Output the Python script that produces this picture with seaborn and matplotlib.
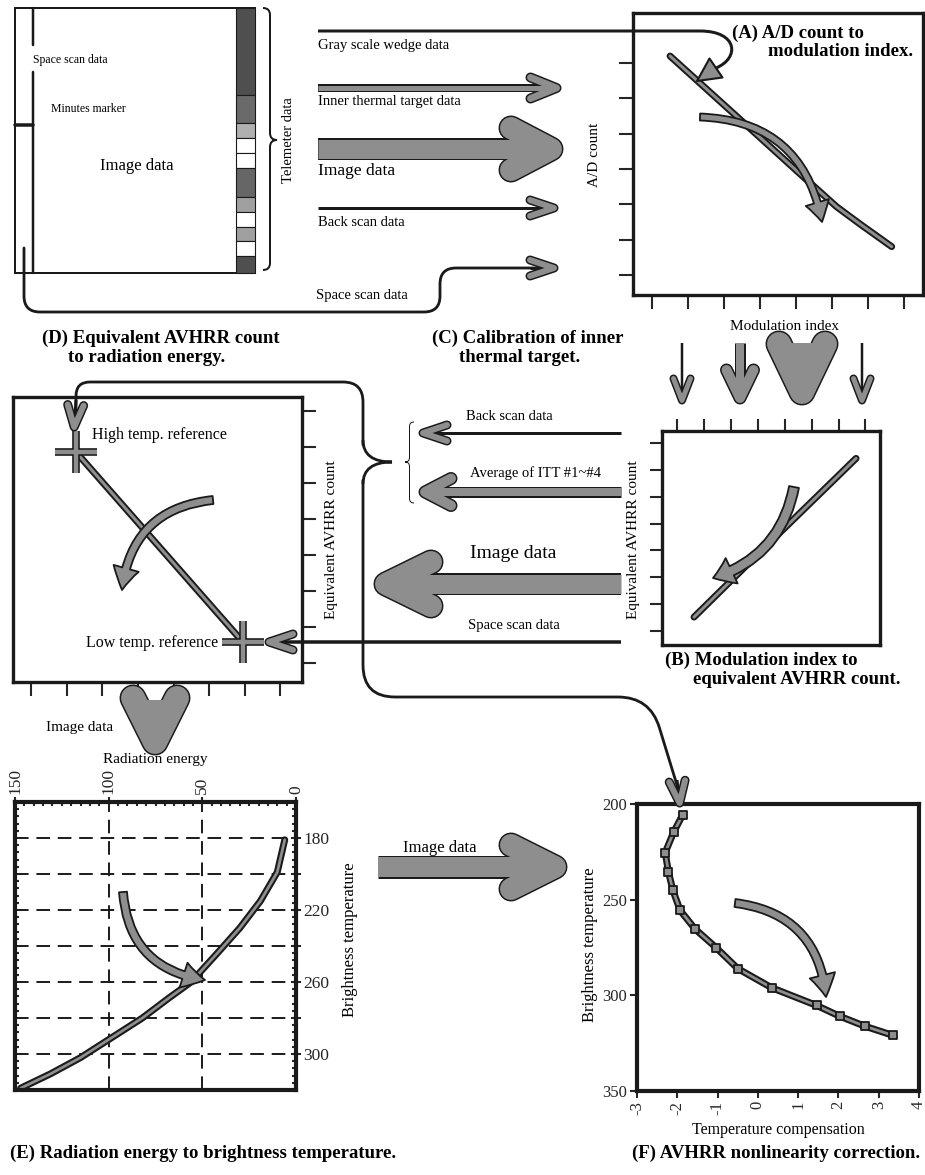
import numpy as np
import pandas as pd
import matplotlib
matplotlib.use("Agg")
import matplotlib.pyplot as plt
import seaborn as sns
from matplotlib.path import Path
from matplotlib.patches import PathPatch, FancyArrowPatch, Rectangle, Polygon
import matplotlib.patheffects as pe
from matplotlib.ticker import MultipleLocator

sns.set_style("white")
plt.rcParams['font.family'] = ['Liberation Serif', 'DejaVu Serif']

# ---------------- data ----------------
# (A) A/D count vs modulation index (unlabelled axes, tick units)
a_mod_index = [1.50, 3.44, 5.30, 6.13, 6.78, 7.66]
a_ad_count = [7.20, 5.41, 3.69, 2.93, 2.44, 1.80]
# (B) modulation index -> equivalent AVHRR count
b_mod_index = [1.63, 4.60, 7.65]
b_equiv_count = [1.52, 4.45, 7.43]
# (D) equivalent AVHRR count references (high temp., low temp.)
d_energy = [2.26, 6.95]
d_equiv_count = [6.86, 1.58]
# (E) radiation energy vs brightness temperature
e_energy = [147, 131, 115, 100, 82, 68, 56, 42, 30, 19, 10, 6]
e_temp = [319, 311, 302, 292, 280, 269, 260, 244, 230, 215, 199, 181]
e_xticks = [150, 100, 50, 0]
e_yticks = [180, 200, 220, 240, 260, 280, 300]
e_ylabels = ['180', '', '220', '', '260', '', '300']
# (F) nonlinearity correction
f_comp = [-1.87, -2.09, -2.30, -2.22, -2.11, -1.93, -1.56, -1.04, -0.50, 0.34, 1.46, 2.03, 2.65, 3.35]
f_temp = [205.8, 214.7, 225.4, 235.4, 245.0, 255.6, 265.3, 275.0, 286.0, 296.0, 305.3, 310.9, 316.1, 320.9]
f_xticks = [-3, -2, -1, 0, 1, 2, 3, 4]
f_yticks = [200, 250, 300, 350]
# telemeter strip shades
tele_tops = [8, 95, 123, 138, 153, 168, 197, 212, 227, 241, 256]
tele_bots = [95, 123, 138, 153, 168, 197, 212, 227, 241, 256, 273]
tele_shades = ['#4f4f4f', '#6a6a6a', '#b0b0b0', 'white', 'white', '#666666',
               '#a0a0a0', 'white', '#a0a0a0', 'white', '#4f4f4f']

# ---------------- figure ----------------
W, H = 925, 1175
fig = plt.figure(figsize=(W / 100, H / 100), dpi=100)
DARK = '#1a1a1a'
GRAY = '#8e8e8e'
tube = [pe.Stroke(linewidth=5, foreground=DARK), pe.Normal()]


def add_ax(l, t, r, b):
    return fig.add_axes([l / W, 1 - b / H, (r - l) / W, (b - t) / H])


def style_spines(ax, lw=2.4):
    for s in ax.spines.values():
        s.set_linewidth(lw)
        s.set_color(DARK)
        s.set_visible(True)


# ---- (A)
axA = add_ax(633, 13, 923, 295)
dfA = pd.DataFrame({'m': a_mod_index, 'c': a_ad_count})
sns.lineplot(data=dfA, x='m', y='c', ax=axA, sort=False, estimator=None, color=GRAY, lw=2.2)
axA.lines[0].set_path_effects(tube)
axA.set_xlim(0.47, 8.53)
axA.set_ylim(0.43, 8.42)
axA.set_xticks(range(1, 9))
axA.set_yticks(range(1, 8))
axA.tick_params(direction='out', length=10, width=1.5, bottom=True, left=True,
                labelbottom=False, labelleft=False)
axA.set_xlabel('')
axA.set_ylabel('')
style_spines(axA)

# ---- (B)
axB = add_ax(662, 431, 880, 645)
dfB = pd.DataFrame({'m': b_mod_index, 'c': b_equiv_count})
sns.lineplot(data=dfB, x='m', y='c', ax=axB, sort=False, estimator=None, color=GRAY, lw=2.2)
axB.lines[0].set_path_effects(tube)
axB.set_xlim(0.44, 8.54)
axB.set_ylim(0.48, 8.45)
axB.xaxis.tick_top()
axB.set_xticks(range(1, 9))
axB.set_yticks(range(1, 9))
axB.tick_params(direction='out', length=9, width=1.5, top=True, left=True, bottom=False,
                labeltop=False, labelleft=False, labelbottom=False)
axB.set_xlabel('')
axB.set_ylabel('')
style_spines(axB)

# ---- (D)
axD = add_ax(13, 397, 302, 682)
dfD = pd.DataFrame({'e': d_energy, 'c': d_equiv_count})
sns.lineplot(data=dfD, x='e', y='c', ax=axD, sort=False, estimator=None, color=GRAY, lw=2.2)
axD.lines[0].set_path_effects(tube)
sns.lineplot(data=dfD, x='e', y='c', ax=axD, sort=False, estimator=None, linestyle='',
             marker='+', markersize=30, markeredgewidth=3.2, markeredgecolor=GRAY, color=GRAY)
axD.lines[1].set_path_effects([pe.Stroke(linewidth=5.5, foreground=DARK), pe.Normal()])
axD.lines[1].set_zorder(5)
axD.set_xlim(0.49, 8.61)
axD.set_ylim(0.47, 8.39)
axD.yaxis.tick_right()
axD.set_xticks(range(1, 9))
axD.set_yticks(range(1, 9))
axD.tick_params(direction='out', length=10, width=1.5, bottom=True, right=True, left=False,
                labelbottom=False, labelright=False, labelleft=False)
axD.set_xlabel('')
axD.set_ylabel('')
style_spines(axD)

# ---- (E)
axE = add_ax(15, 802, 296, 1090)
dfE = pd.DataFrame({'energy': e_energy, 'temp': e_temp})
sns.lineplot(data=dfE, x='energy', y='temp', ax=axE, sort=False, estimator=None, color=GRAY, lw=2.0)
axE.lines[0].set_path_effects(tube)
axE.set_xlim(150, 0)
axE.set_ylim(320, 160)
axE.xaxis.tick_top()
axE.yaxis.tick_right()
axE.set_xticks(e_xticks)
axE.set_xticklabels([str(v) for v in e_xticks], rotation=90)
axE.set_yticks(e_yticks)
axE.set_yticklabels(e_ylabels)
axE.grid(True, which='major', color=DARK, ls=(0, (7, 4)), lw=1.4)
axE.xaxis.set_minor_locator(MultipleLocator(5))
axE.yaxis.set_minor_locator(MultipleLocator(4))
axE.tick_params(which='minor', direction='in', length=3, width=1.5,
                left=True, right=True, top=True, bottom=False)
axE.tick_params(which='major', direction='inout', length=7, width=1.5,
                top=True, right=True, left=False, bottom=False,
                labeltop=True, labelright=True, labelbottom=False, labelleft=False,
                labelsize=12.5, pad=2)
axE.set_xlabel('')
axE.set_ylabel('')
style_spines(axE, 3)

# ---- (F)
axF = add_ax(637, 804, 919, 1091)
dfF = pd.DataFrame({'comp': f_comp, 'temp': f_temp})
sns.lineplot(data=dfF, x='comp', y='temp', ax=axF, sort=False, estimator=None, color=GRAY, lw=2.0)
axF.lines[0].set_path_effects(tube)
sns.scatterplot(data=dfF, x='comp', y='temp', ax=axF, marker='s', s=38, color=GRAY,
                edgecolor=DARK, linewidth=1.3, zorder=5)
axF.set_xlim(-3, 4)
axF.set_ylim(350, 200)
axF.set_xticks(f_xticks)
axF.set_xticklabels([str(v) for v in f_xticks], rotation=90)
axF.set_yticks(f_yticks)
axF.tick_params(direction='out', length=5, width=1.5, bottom=True, left=True,
                labelsize=12, pad=2)
axF.set_xlabel('')
axF.set_ylabel('')
style_spines(axF, 3)

# ---------------- overlay (diagram) ----------------
ov = fig.add_axes([0, 0, 1, 1])
ov.set_xlim(0, W)
ov.set_ylim(H, 0)
ov.axis('off')
ov.patch.set_alpha(0)
ov.set_zorder(10)


def p2pt(v):
    return v * 0.72


def chevron_arrow(x0, y0, x1, y1, shaft, arm, hw, hl, fill_shaft=True):
    d = np.array([x1 - x0, y1 - y0], float)
    u = d / np.hypot(*d)
    n = np.array([-u[1], u[0]])
    tip = np.array([x1, y1]) - u * arm * 0.5
    base = tip - u * hl
    a1 = base + n * (hw / 2 - arm / 2)
    a2 = base - n * (hw / 2 - arm / 2)
    send = tip - u * arm * 0.3
    sx, sy = [x0, send[0]], [y0, send[1]]
    cx, cy = [a1[0], tip[0], a2[0]], [a1[1], tip[1], a2[1]]
    if fill_shaft:
        ov.plot(sx, sy, color=DARK, lw=p2pt(shaft + 3), solid_capstyle='butt')
    else:
        ov.plot(sx, sy, color=DARK, lw=p2pt(shaft), solid_capstyle='butt')
    ov.plot(cx, cy, color=DARK, lw=p2pt(arm + 3), solid_capstyle='round', solid_joinstyle='round')
    if fill_shaft:
        ov.plot(sx, sy, color=GRAY, lw=p2pt(shaft), solid_capstyle='butt')
    ov.plot(cx, cy, color=GRAY, lw=p2pt(arm), solid_capstyle='round', solid_joinstyle='round')


def rounded(points, r, lw=2.5):
    pts = [np.array(p, float) for p in points]
    verts = [pts[0]]
    codes = [Path.MOVETO]
    for i in range(1, len(pts) - 1):
        p, a, b = pts[i], pts[i - 1], pts[i + 1]
        d1 = (p - a) / np.linalg.norm(p - a)
        d2 = (b - p) / np.linalg.norm(b - p)
        rr = min(r, np.linalg.norm(p - a) / 2, np.linalg.norm(b - p) / 2)
        verts += [p - d1 * rr, p, p + d2 * rr]
        codes += [Path.LINETO, Path.CURVE3, Path.CURVE3]
    verts.append(pts[-1])
    codes.append(Path.LINETO)
    ov.add_patch(PathPatch(Path(verts, codes), fc='none', ec=DARK, lw=p2pt(lw),
                           capstyle='round', joinstyle='round'))


def brace(xt, ym, y0, y1, w, side, lw=2):
    xb = xt - side * w
    xm = xt - side * w / 2
    verts = [(xb, y0), (xm, y0), (xm, y0 + w / 2), (xm, ym - w / 2), (xm, ym), (xt, ym),
             (xm, ym), (xm, ym + w / 2), (xm, y1 - w / 2), (xm, y1), (xb, y1)]
    codes = [Path.MOVETO, Path.CURVE3, Path.CURVE3, Path.LINETO, Path.CURVE3, Path.CURVE3,
             Path.CURVE3, Path.CURVE3, Path.LINETO, Path.CURVE3, Path.CURVE3]
    ov.add_patch(PathPatch(Path(verts, codes), fc='none', ec=DARK, lw=p2pt(lw)))


def curved(p0, p1, rad, tail=7, hw=24, hl=18):
    a = FancyArrowPatch(p0, p1, connectionstyle=f"arc3,rad={rad}",
                        arrowstyle=f"simple,head_length={p2pt(hl)},head_width={p2pt(hw)},tail_width={p2pt(tail)}",
                        mutation_scale=1, fc=GRAY, ec=DARK, lw=1.3, shrinkA=0, shrinkB=0)
    ov.add_patch(a)


def txt(x, y, s, size=11, **kw):
    kw.setdefault('ha', 'left')
    kw.setdefault('va', 'center')
    ov.text(x, y, s, fontsize=size, color='black', **kw)


# --- scan data frame (top left)
ov.add_patch(Rectangle((15, 8), 240, 265, fc='white', ec=DARK, lw=p2pt(2)))
ov.plot([33, 33], [8, 45], color=DARK, lw=p2pt(2.5))
ov.plot([33, 33], [72, 273], color=DARK, lw=p2pt(2.5))
ov.plot([15, 33], [125, 125], color=DARK, lw=p2pt(3.5))
for t, b, c in zip(tele_tops, tele_bots, tele_shades):
    ov.add_patch(Rectangle((236, t), 19, b - t, fc=c, ec=DARK, lw=0.8))
txt(33, 60, 'Space scan data', 8.5)
txt(51, 109, 'Minutes marker', 8.5)
txt(100, 166, 'Image data', 12)
brace(277, 140, 8, 270, 14, +1, lw=2)
txt(288, 140, 'Telemeter data', 10.5, rotation=90, ha='center')

# --- top arrows to (A)
p_gray = Path([(318, 31), (700, 31), (738, 31), (740, 58), (716, 68)],
              [Path.MOVETO, Path.LINETO, Path.CURVE4, Path.CURVE4, Path.CURVE4])
ov.add_patch(PathPatch(p_gray, fc='none', ec=DARK, lw=p2pt(3)))
ov.add_patch(Polygon([(697, 81), (709.5, 58.5), (722.5, 77.5)], closed=True,
                     fc=GRAY, ec=DARK, lw=1.5, joinstyle='round'))
txt(318, 45, 'Gray scale wedge data', 10.5)
chevron_arrow(318, 88, 560, 88, 5, 7, 28, 26)
txt(318, 101, 'Inner thermal target data', 10.5)
chevron_arrow(318, 149, 562, 149, 19, 22, 64, 40)
txt(318, 171, 'Image data', 12.5)
chevron_arrow(318, 208, 557, 208, 3, 6, 22, 24, fill_shaft=False)
txt(318, 222, 'Back scan data', 10.5)
rounded([(24, 248), (24, 312), (440, 312), (440, 268), (540, 268)], 16, lw=2.8)
chevron_arrow(530, 268, 557, 268, 3, 6, 22, 24, fill_shaft=False)
txt(316, 296, 'Space scan data', 10.5)

txt(595, 155, 'A/D count', 11, rotation=90, ha='center')
txt(785, 327, 'Modulation index', 11, ha='center')
txt(732, 33, '(A) A/D count to', 13.5, weight='bold')
txt(768, 52, 'modulation index.', 13.5, weight='bold')
curved((700, 117), (822, 222), -0.4, tail=7, hw=24, hl=20)

# --- down arrows into (B)
chevron_arrow(682, 343, 682, 403, 2.5, 5, 22, 22, fill_shaft=False)
chevron_arrow(740, 343, 740, 403, 8, 10, 37, 28)
chevron_arrow(802, 343, 802, 404, 20, 24, 70, 48)
chevron_arrow(862, 343, 862, 403, 2.5, 5, 22, 22, fill_shaft=False)

# --- (C) left arrows
txt(432, 338, '(C) Calibration of inner', 13.5, weight='bold')
txt(459, 357, 'thermal target.', 13.5, weight='bold')
chevron_arrow(621, 433, 420, 433, 3, 6, 22, 24, fill_shaft=False)
txt(466, 416, 'Back scan data', 10.5)
chevron_arrow(621, 492, 420, 492, 8, 10, 37, 26)
txt(470, 473, 'Average of ITT #1~#4', 10.5)
chevron_arrow(621, 584, 375, 584, 19, 22, 66, 45)
txt(470, 553, 'Image data', 14)
chevron_arrow(621, 642, 266, 642, 3.5, 6, 22, 24, fill_shaft=False)
txt(468, 625, 'Space scan data', 10.5)
brace(405, 462, 422, 503, 9, -1, lw=1)

# --- (B) labels
txt(633, 540, 'Equivalent AVHRR count', 11, rotation=90, ha='center')
txt(665, 660, '(B) Modulation index to', 13.5, weight='bold')
txt(693, 679, 'equivalent AVHRR count.', 13.5, weight='bold')
curved((794, 487), (713, 578), -0.3, tail=10, hw=28, hl=20)

# --- connectors around (D)
rounded([(76, 410), (76, 382), (363, 382), (363, 445)], 20, lw=2.8)
chevron_arrow(76, 400, 74, 430, 3, 6, 22, 22, fill_shaft=False)
ov.add_patch(PathPatch(Path([(363, 440), (363, 462), (392, 462), (363, 462), (363, 484)],
                            [Path.MOVETO, Path.CURVE3, Path.CURVE3, Path.CURVE3, Path.CURVE3]),
                       fc='none', ec=DARK, lw=p2pt(2.8)))
rounded([(363, 480), (363, 697), (650, 697), (680, 795)], 32, lw=2.8)
chevron_arrow(677, 780, 680, 806, 3, 6, 22, 22, fill_shaft=False)

# --- (D) labels
txt(42, 338, '(D) Equivalent AVHRR count', 13.5, weight='bold')
txt(68, 357, 'to radiation energy.', 13.5, weight='bold')
txt(92, 435, 'High temp. reference', 11.5)
txt(218, 643, 'Low temp. reference', 11.5, ha='right')
txt(331, 540, 'Equivalent AVHRR count', 11, rotation=90, ha='center')
curved((213, 500), (122, 590), 0.4, tail=8, hw=26, hl=22)

# --- between (D) and (E)
chevron_arrow(155, 700, 155, 754, 20, 24, 68, 44)
txt(80, 728, 'Image data', 11, ha='center')
txt(155, 760, 'Radiation energy', 11, ha='center')
txt(350, 940, 'Brightness temperature', 12, rotation=90, ha='center')
curved((123, 892), (205, 980), 0.4, tail=8, hw=26, hl=22)

# --- (E) -> (F)
chevron_arrow(378, 867, 566, 867, 20, 22, 66, 44)
txt(440, 848, 'Image data', 12, ha='center')
txt(590, 945, 'Brightness temperature', 12, rotation=90, ha='center')
txt(778, 1130, 'Temperature compensation', 11.5, ha='center')
curved((735, 903), (826, 997), -0.4, tail=8, hw=26, hl=22)

txt(10, 1153, '(E) Radiation energy to brightness temperature.', 13.5, weight='bold')
txt(920, 1153, '(F) AVHRR nonlinearity correction.', 13.5, weight='bold', ha='right')

fig.savefig('out.png', dpi=100)
